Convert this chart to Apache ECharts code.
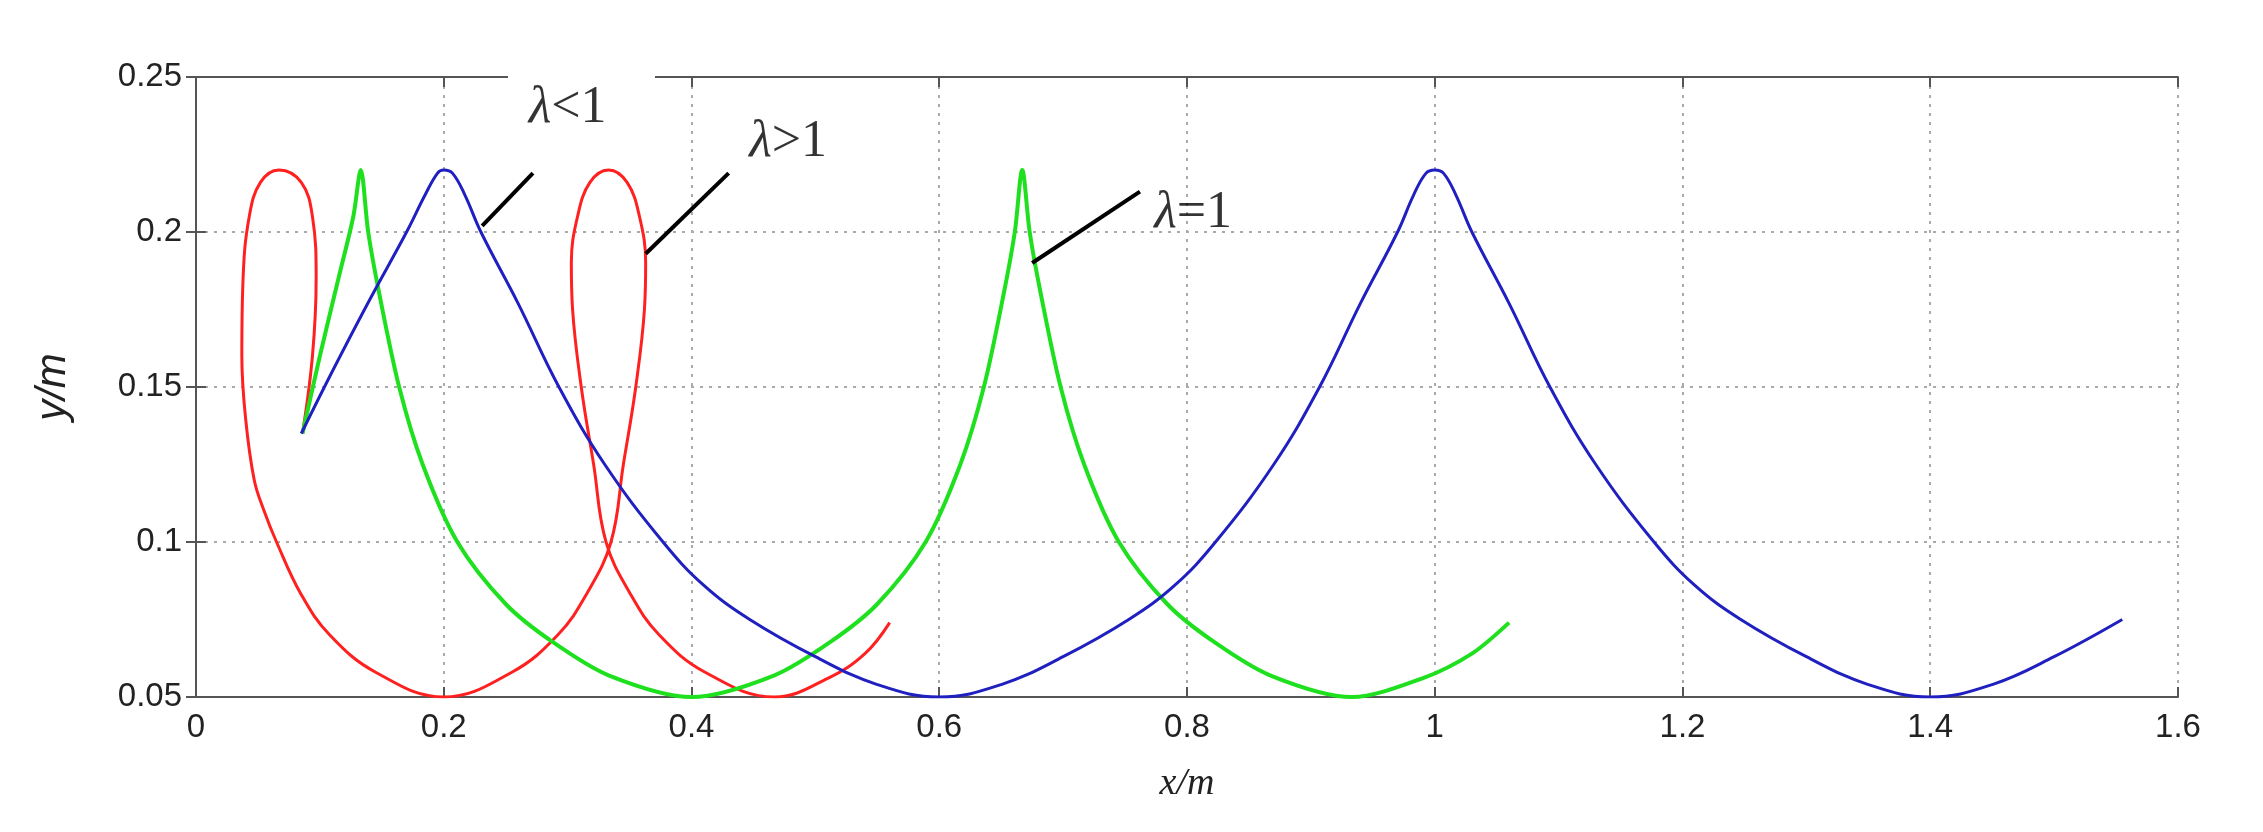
<!DOCTYPE html>
<html>
<head>
<meta charset="utf-8">
<script src="https://cdn.jsdelivr.net/npm/echarts@6/dist/echarts.min.js"></script>
<style>
    html, body { margin: 0; padding: 0; background: #fff; }
    #chart { width: 2263px; height: 832px; }
</style>
</head>
<body>
<div id="chart"></div>
<script>
    var xTicks = [0, 0.2, 0.4, 0.6, 0.8, 1, 1.2, 1.4, 1.6];
    var yTicks = [0.05, 0.1, 0.15, 0.2, 0.25];

    // λ<1
    var blueData = [
        [0.085, 0.135], [0.11, 0.155], [0.14, 0.178], [0.17, 0.2], [0.185, 0.212], [0.195, 0.219], [0.2, 0.22],
        [0.207, 0.219], [0.217, 0.212], [0.23, 0.2], [0.26, 0.177], [0.293, 0.15], [0.33, 0.125], [0.377, 0.1],
        [0.41, 0.086], [0.447, 0.075], [0.5, 0.063], [0.55, 0.054], [0.6, 0.05],
        [0.65, 0.054], [0.7, 0.063], [0.753, 0.075], [0.79, 0.086], [0.823, 0.1], [0.87, 0.125],
        [0.907, 0.15], [0.94, 0.177], [0.97, 0.2], [0.983, 0.212], [0.993, 0.219], [1.0, 0.22], [1.007, 0.219],
        [1.017, 0.212], [1.03, 0.2], [1.06, 0.177], [1.093, 0.15], [1.13, 0.125], [1.177, 0.1], [1.21, 0.086],
        [1.247, 0.075], [1.3, 0.063], [1.35, 0.054], [1.4, 0.05], [1.45, 0.054], [1.5, 0.063],
        [1.555, 0.075]
    ];

    // λ=1
    var greenData = [
        [0.086, 0.135], [0.1, 0.16], [0.115, 0.185], [0.127, 0.205], [0.133, 0.22],
        [0.139, 0.2], [0.148, 0.18], [0.164, 0.15], [0.183, 0.125], [0.211, 0.1], [0.25, 0.08], [0.287, 0.068],
        [0.333, 0.057], [0.4, 0.05], [0.467, 0.057], [0.513, 0.068], [0.55, 0.08], [0.589, 0.1], [0.617, 0.125],
        [0.636, 0.15], [0.652, 0.18], [0.661, 0.2], [0.667, 0.22], [0.673, 0.2], [0.682, 0.18],
        [0.698, 0.15], [0.717, 0.125], [0.745, 0.1], [0.784, 0.08], [0.821, 0.068], [0.867, 0.057], [0.933, 0.05],
        [0.99, 0.056], [1.03, 0.064], [1.06, 0.074]
    ];

    // λ>1
    var redData = [
        [0.086, 0.135], [0.094, 0.16], [0.097, 0.185], [0.094, 0.205], [0.085, 0.216], [0.067, 0.22],
        [0.052, 0.216], [0.043, 0.205], [0.038, 0.185], [0.037, 0.16], [0.04, 0.14], [0.047, 0.12],
        [0.055, 0.11], [0.065, 0.1], [0.085, 0.083], [0.108, 0.07], [0.145, 0.058], [0.2, 0.05],
        [0.255, 0.058], [0.292, 0.07], [0.315, 0.083], [0.335, 0.1], [0.345, 0.125], [0.355, 0.15],
        [0.362, 0.175], [0.363, 0.19], [0.358, 0.205], [0.348, 0.216], [0.333, 0.22], [0.318, 0.216],
        [0.308, 0.205], [0.303, 0.19], [0.304, 0.175], [0.311, 0.15], [0.321, 0.125], [0.331, 0.1],
        [0.351, 0.083], [0.374, 0.07], [0.411, 0.058], [0.467, 0.05], [0.51, 0.056], [0.54, 0.064],
        [0.56, 0.074]
    ];

    var leaderLess = [[0.231, 0.202], [0.272, 0.219]];
    var leaderMore = [[0.363, 0.193], [0.43, 0.219]];
    var leaderEq = [[0.675, 0.19], [0.762, 0.213]];

    var labelNames = ['<1', '>1', '=1'];
    var labelPos = [[0.3, 0.24], [0.478, 0.229], [0.805, 0.206]];

    var chart = echarts.init(document.getElementById('chart'));

    var tickFont = { color: '#222', fontSize: 33, fontFamily: 'Arial, Liberation Sans' };
    var boxLine = { color: '#555', width: 2 };

    function leader(d) {
        return {
            type: 'line', data: d, symbol: 'none', silent: true,
            lineStyle: { color: '#000', width: 4 }, z: 5
        };
    }

    var option = {
        animation: false,
        grid: { left: 196, right: 85, top: 77, bottom: 135 },
        xAxis: [{
            type: 'value', min: 0, max: 1.6, interval: 0.2,
            name: 'x/m', nameLocation: 'middle', nameGap: 68,
            nameTextStyle: { fontFamily: 'Liberation Serif', fontStyle: 'italic', fontSize: 38, color: '#222' },
            axisLine: { lineStyle: boxLine },
            axisTick: { inside: true, length: 10, lineStyle: boxLine },
            axisLabel: Object.assign({ margin: 14 }, tickFont),
            splitLine: { show: true, lineStyle: { color: '#aaa', type: [3, 6], width: 2 } }
        }, {
            type: 'value', min: 0, max: 1.6, interval: 0.2, position: 'top',
            axisLine: { show: true, lineStyle: boxLine },
            axisTick: { inside: true, length: 10, lineStyle: boxLine },
            axisLabel: { show: false }, splitLine: { show: false }
        }],
        yAxis: [{
            type: 'value', min: 0.05, max: 0.25, interval: 0.05,
            name: 'y/m', nameLocation: 'middle', nameGap: 122,
            nameTextStyle: { fontFamily: 'Liberation Sans', fontStyle: 'italic', fontSize: 42, color: '#222' },
            axisLine: { show: true, lineStyle: boxLine },
            axisTick: { show: true, inside: true, length: 10, lineStyle: boxLine },
            axisLabel: Object.assign({ margin: 14 }, tickFont),
            splitLine: { show: true, lineStyle: { color: '#aaa', type: [3, 6], width: 2 } }
        }, {
            type: 'value', min: 0.05, max: 0.25, interval: 0.05, position: 'right',
            axisLine: { show: true, lineStyle: boxLine },
            axisTick: { show: true, inside: true, length: 10, lineStyle: boxLine },
            axisLabel: { show: false }, splitLine: { show: false }
        }],
        series: [
            { type: 'line', data: redData, symbol: 'none', smooth: 0.4, lineStyle: { color: '#ff2020', width: 3 } },
            { type: 'line', data: greenData, symbol: 'none', smooth: 0.3, lineStyle: { color: '#1fe01f', width: 4 } },
            { type: 'line', data: blueData, symbol: 'none', smooth: 0.4, lineStyle: { color: '#2020c0', width: 3 } },
            leader(leaderLess), leader(leaderMore), leader(leaderEq),
            {
                type: 'scatter', symbolSize: 0, silent: true, z: 6,
                data: labelPos.map(function (p, i) { return { value: p, name: labelNames[i] }; }),
                label: {
                    show: true, position: 'inside',
                    formatter: function (p) { return '{i|λ}' + p.name; },
                    fontFamily: 'Liberation Serif', fontSize: 52, color: '#000',
                    rich: { i: { fontFamily: 'Liberation Serif', fontStyle: 'italic', fontSize: 52, color: '#000' } }
                }
            }
        ],
        graphic: [{
            type: 'rect', shape: { x: 508, y: 72, width: 147, height: 10 },
            style: { fill: '#fff' }, z: 100
        }]
    };

    chart.setOption(option);
</script>
</body>
</html>
